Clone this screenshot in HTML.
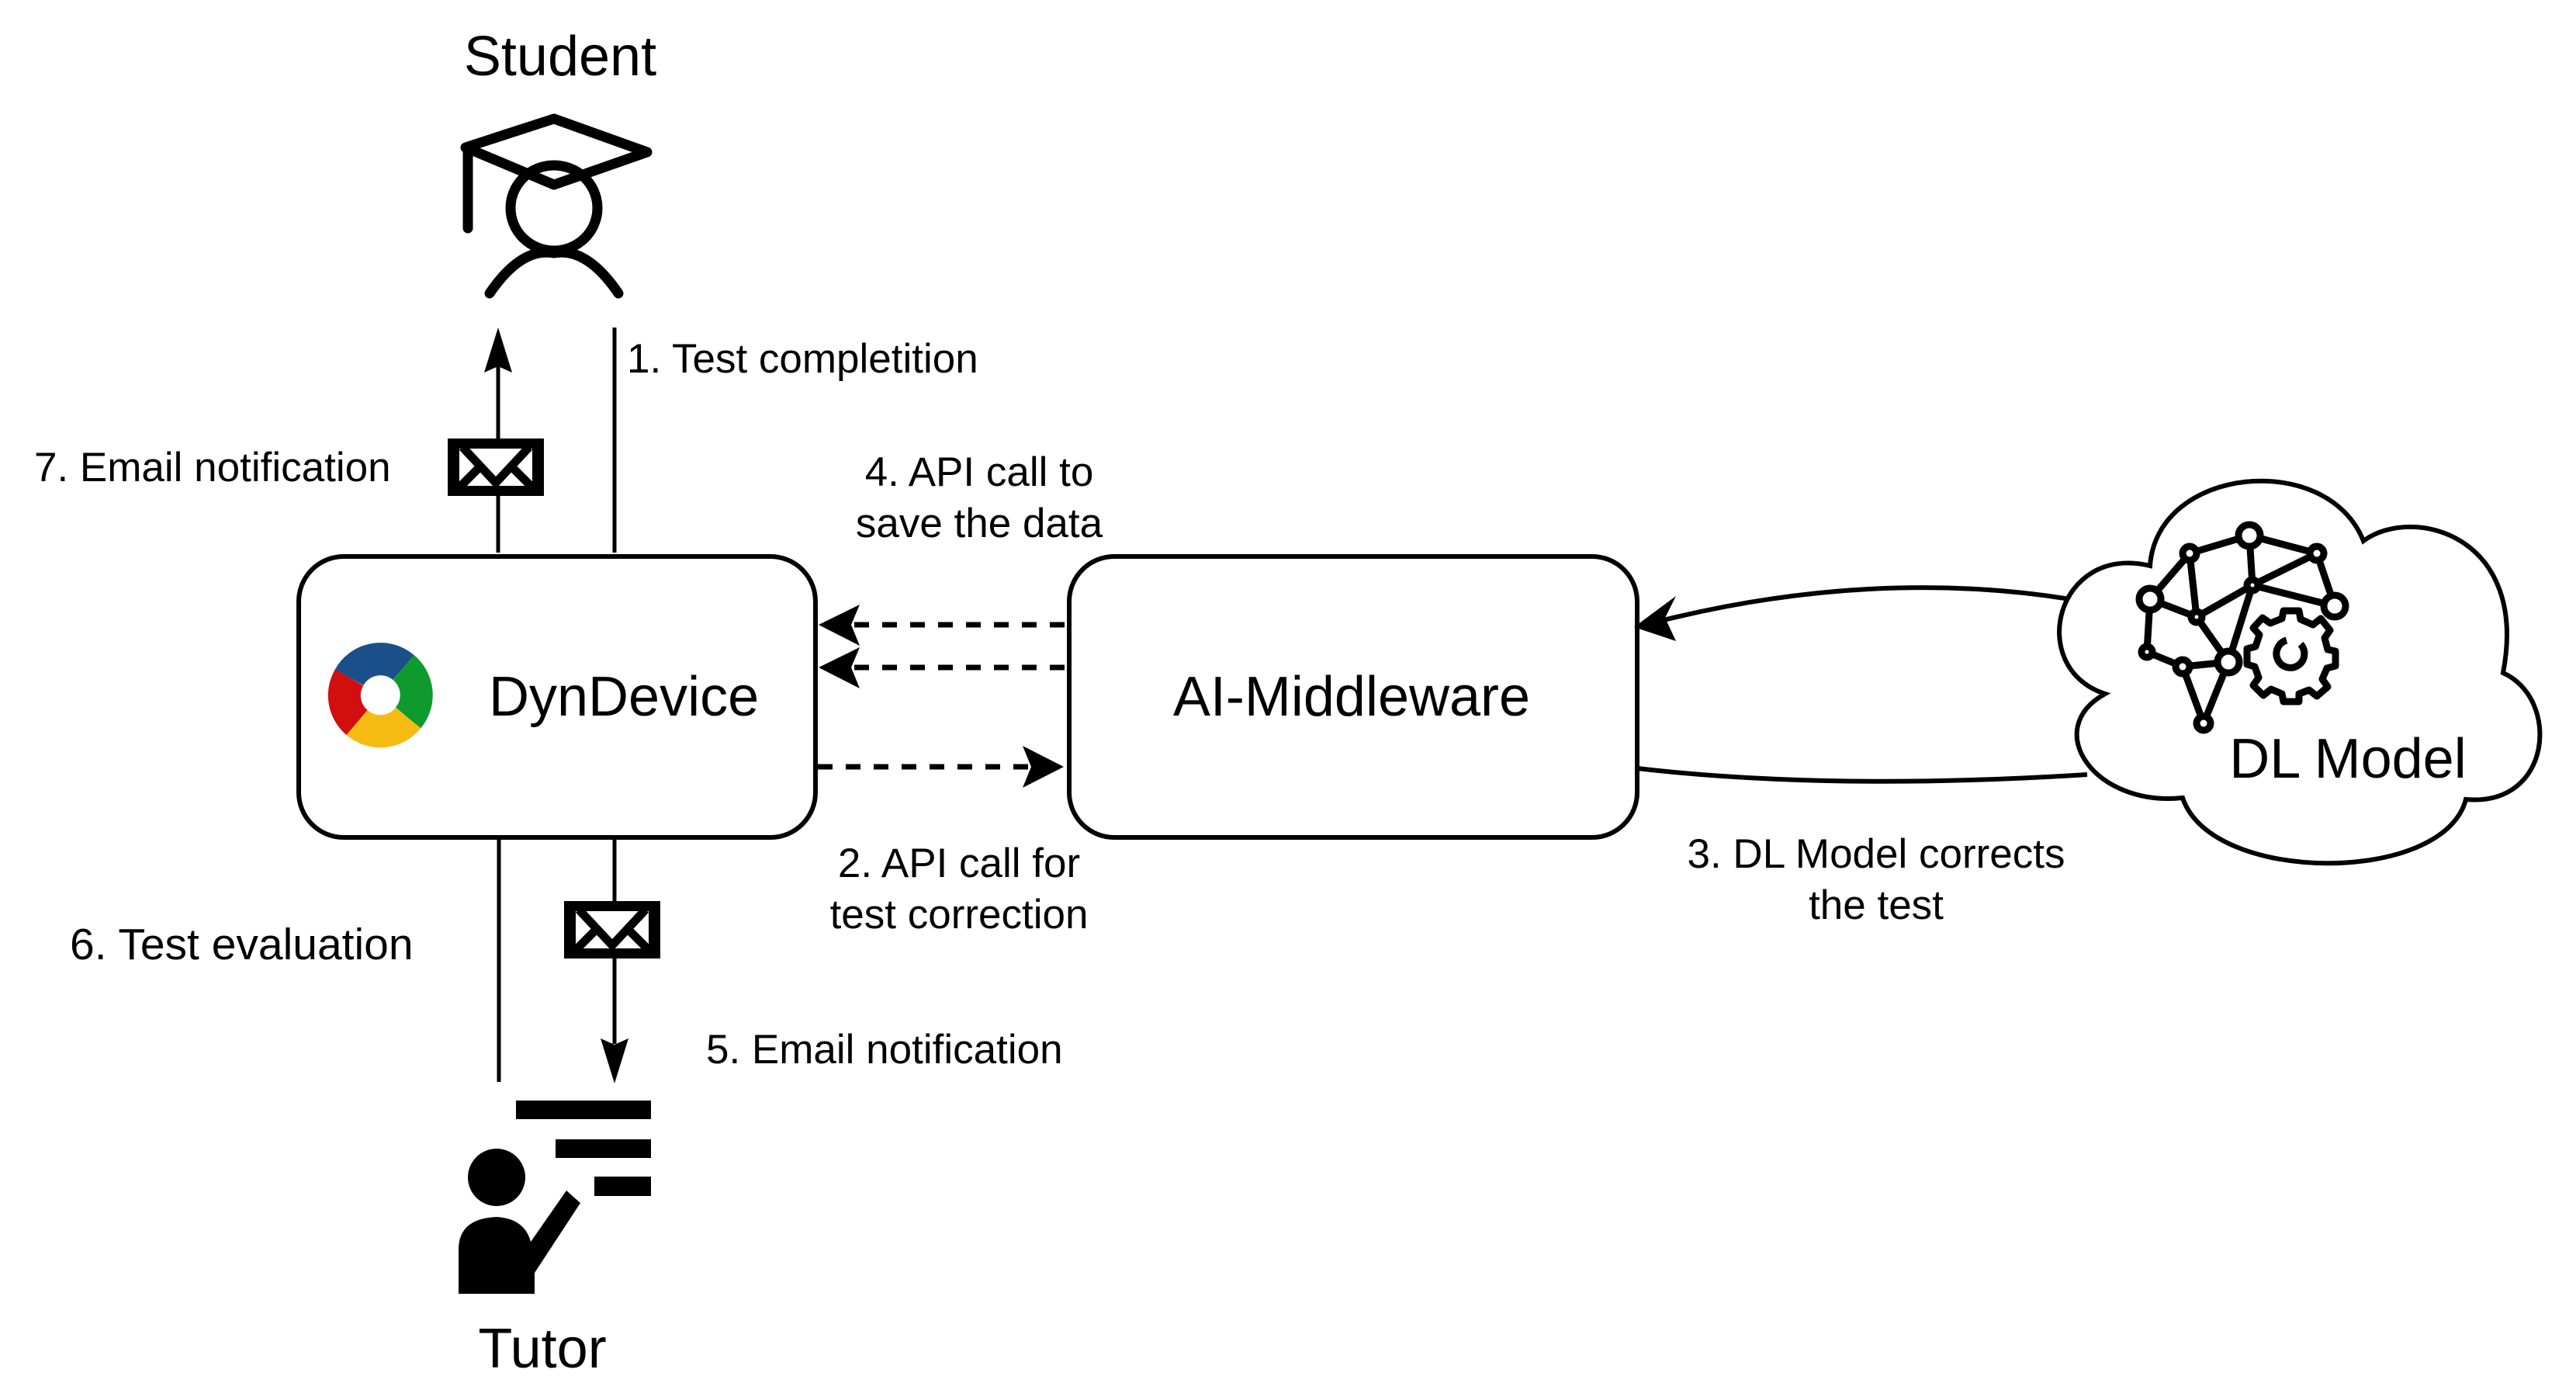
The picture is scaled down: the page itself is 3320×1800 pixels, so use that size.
<!DOCTYPE html>
<html><head><meta charset="utf-8"><style>
html,body{margin:0;padding:0;background:#fff;}
svg{display:block;}
text{font-family:"Liberation Sans",Arial,sans-serif;fill:#000;}
</style></head><body>
<svg width="3320" height="1800" viewBox="0 0 3320 1800" xmlns="http://www.w3.org/2000/svg">
<rect width="3320" height="1800" fill="#fff"/>
<!-- Student -->
<text x="722" y="97" font-size="72" text-anchor="middle">Student</text>
<g fill="none" stroke="#000" stroke-width="13" stroke-linejoin="round" stroke-linecap="round">
<polygon points="714,153 834,196 714,238 600,190"/>
<line x1="603" y1="192" x2="603" y2="294"/>
<ellipse cx="714" cy="268" rx="56" ry="55"/>
<path d="M631,378 Q672,318 714,326 Q756,318 797,378"/>
</g>
<!-- Lines DynDevice-Student -->
<g stroke="#000" stroke-width="5" fill="none">
<line x1="642" y1="712" x2="642" y2="470"/>
<line x1="792" y1="712" x2="792" y2="422"/>
<line x1="643" y1="1078" x2="643" y2="1394"/>
<line x1="792" y1="1078" x2="792" y2="1345"/>
</g>
<polygon points="642,422 660,480 642,472 624,480" fill="#000"/>
<polygon points="792,1396 810,1338 792,1346 774,1338" fill="#000"/>
<!-- envelopes -->
<g>
<rect x="577" y="565" width="124" height="74" fill="#000"/>
<rect x="592" y="578" width="94" height="48" fill="#fff"/>
<g stroke="#000" stroke-width="11" fill="none">
<polyline points="596,576 639,622 682,576"/>
<line x1="590" y1="630" x2="620" y2="600"/>
<line x1="688" y1="630" x2="658" y2="600"/>
</g>
</g>
<g>
<rect x="727" y="1161" width="124" height="74" fill="#000"/>
<rect x="742" y="1174" width="94" height="48" fill="#fff"/>
<g stroke="#000" stroke-width="11" fill="none">
<polyline points="746,1172 789,1218 832,1172"/>
<line x1="740" y1="1226" x2="770" y2="1196"/>
<line x1="838" y1="1226" x2="808" y2="1196"/>
</g>
</g>
<!-- Labels -->
<g font-size="53">
<text x="808" y="480">1. Test completition</text>
<text x="44" y="620">7. Email notification</text>
<text x="1262" y="626" text-anchor="middle">4. API call to</text>
<text x="1262" y="692" text-anchor="middle">save the data</text>
<text x="1236" y="1130" text-anchor="middle">2. API call for</text>
<text x="1236" y="1196" text-anchor="middle">test correction</text>
<text x="90" y="1236" font-size="57">6. Test evaluation</text>
<text x="910" y="1370">5. Email notification</text>
<text x="2418" y="1118" text-anchor="middle">3. DL Model corrects</text>
<text x="2418" y="1184" text-anchor="middle">the test</text>
</g>
<!-- Boxes -->
<rect x="385" y="717" width="666" height="362" rx="58" fill="#fff" stroke="#000" stroke-width="6"/>
<rect x="1378" y="717" width="732" height="362" rx="58" fill="#fff" stroke="#000" stroke-width="6"/>
<text x="630" y="922" font-size="72">DynDevice</text>
<text x="1742" y="922" font-size="72" text-anchor="middle">AI-Middleware</text>
<!-- logo -->
<g transform="translate(490,895)" fill="none" stroke-width="42">
<path d="M-40,-22 A46,46 0 0 1 30,-35" stroke="#1a4f8a"/>
<path d="M30,-35 A46,46 0 0 1 36,30" stroke="#0f9a2e"/>
<path d="M36,30 A46,46 0 0 1 -30,36" stroke="#f5bb12"/>
<path d="M-30,36 A46,46 0 0 1 -40,-22" stroke="#d20f0f"/>
</g>
<!-- dashed arrows -->
<g stroke="#000" stroke-width="7" stroke-dasharray="19,17" fill="none">
<line x1="1372" y1="805" x2="1100" y2="805"/>
<line x1="1372" y1="860" x2="1100" y2="860"/>
<line x1="1054" y1="988" x2="1330" y2="988"/>
</g>
<g fill="#000">
<polygon points="1055,805 1108,779 1097,805 1108,832"/>
<polygon points="1055,860 1108,834 1097,860 1108,887"/>
<polygon points="1371,988 1318,961 1329,988 1318,1015"/>
</g>
<!-- curves to cloud -->
<g stroke="#000" stroke-width="6" fill="none">
<path d="M2668,772 C2500,745 2320,755 2140,800"/>
<path d="M2690,998 C2500,1010 2300,1012 2110,990"/>
</g>
<polygon points="2106,808 2160,768 2146,796 2160,826" fill="#000"/>
<!-- cloud -->
<path d="M2771,729 C2780,600 3000,580 3046,697 C3110,650 3260,690 3226,867 C3300,900 3290,1040 3178,1030 C3150,1140 2850,1140 2813,1028 C2700,1040 2630,940 2713,894 C2610,860 2650,700 2771,729 Z" fill="#fff" stroke="#000" stroke-width="6"/>
<!-- network -->
<g stroke="#000" stroke-width="9" fill="none">
<line x1="2899" y1="690" x2="2822" y2="713"/>
<line x1="2899" y1="690" x2="2986" y2="713"/>
<line x1="2899" y1="690" x2="2903" y2="754"/>
<line x1="2822" y1="713" x2="2771" y2="772"/>
<line x1="2822" y1="713" x2="2831" y2="795"/>
<line x1="2986" y1="713" x2="2903" y2="754"/>
<line x1="2986" y1="713" x2="3009" y2="781"/>
<line x1="2903" y1="754" x2="3009" y2="781"/>
<line x1="2903" y1="754" x2="2831" y2="795"/>
<line x1="2903" y1="754" x2="2872" y2="853"/>
<line x1="2771" y1="772" x2="2831" y2="795"/>
<line x1="2771" y1="772" x2="2767" y2="840"/>
<line x1="2831" y1="795" x2="2872" y2="853"/>
<line x1="2767" y1="840" x2="2813" y2="859"/>
<line x1="2813" y1="859" x2="2872" y2="853"/>
<line x1="2813" y1="859" x2="2840" y2="932"/>
<line x1="2872" y1="853" x2="2840" y2="932"/>
</g>
<g stroke="#000" stroke-width="9" fill="#fff">
<circle cx="2899" cy="690" r="14"/>
<circle cx="2822" cy="713" r="9"/>
<circle cx="2986" cy="713" r="9"/>
<circle cx="2903" cy="754" r="7"/>
<circle cx="2771" cy="772" r="14"/>
<circle cx="3009" cy="781" r="14"/>
<circle cx="2831" cy="795" r="7"/>
<circle cx="2767" cy="840" r="7"/>
<circle cx="2813" cy="859" r="9"/>
<circle cx="2872" cy="853" r="14"/>
<circle cx="2840" cy="932" r="9"/>
</g>
<!-- gear -->
<g transform="translate(2953,842)" stroke="#000" stroke-width="9" fill="none" stroke-linejoin="round">
<path d="M-10,-55 L10,-55 L12,-44 L28,-37 L38,-45 L50,-30 L43,-20 L47,-5 L57,-3 L57,16 L46,19 L40,33 L47,43 L33,55 L23,47 L10,52 L10,62 L-10,62 L-12,52 L-26,46 L-36,54 L-49,41 L-42,31 L-47,17 L-57,14 L-57,-6 L-46,-9 L-41,-24 L-49,-33 L-37,-46 L-27,-39 L-12,-45 Z"/>
<path d="M12,-12 A18,18 0 1 1 -6,-17"/>
</g>
<text x="3026" y="1002" font-size="72" text-anchor="middle">DL Model</text>
<!-- Tutor -->
<g fill="#000">
<rect x="665" y="1418" width="174" height="24"/>
<rect x="716" y="1468" width="123" height="24"/>
<rect x="766" y="1516" width="73" height="25"/>
<ellipse cx="640" cy="1517" rx="37" ry="37"/>
<path d="M591,1667 L591,1610 Q591,1570 640,1568 Q676,1570 684,1600 L730,1534 L748,1550 L689,1640 L689,1667 Z"/>
</g>
<text x="699" y="1762" font-size="72" text-anchor="middle">Tutor</text>
</svg>
</body></html>
